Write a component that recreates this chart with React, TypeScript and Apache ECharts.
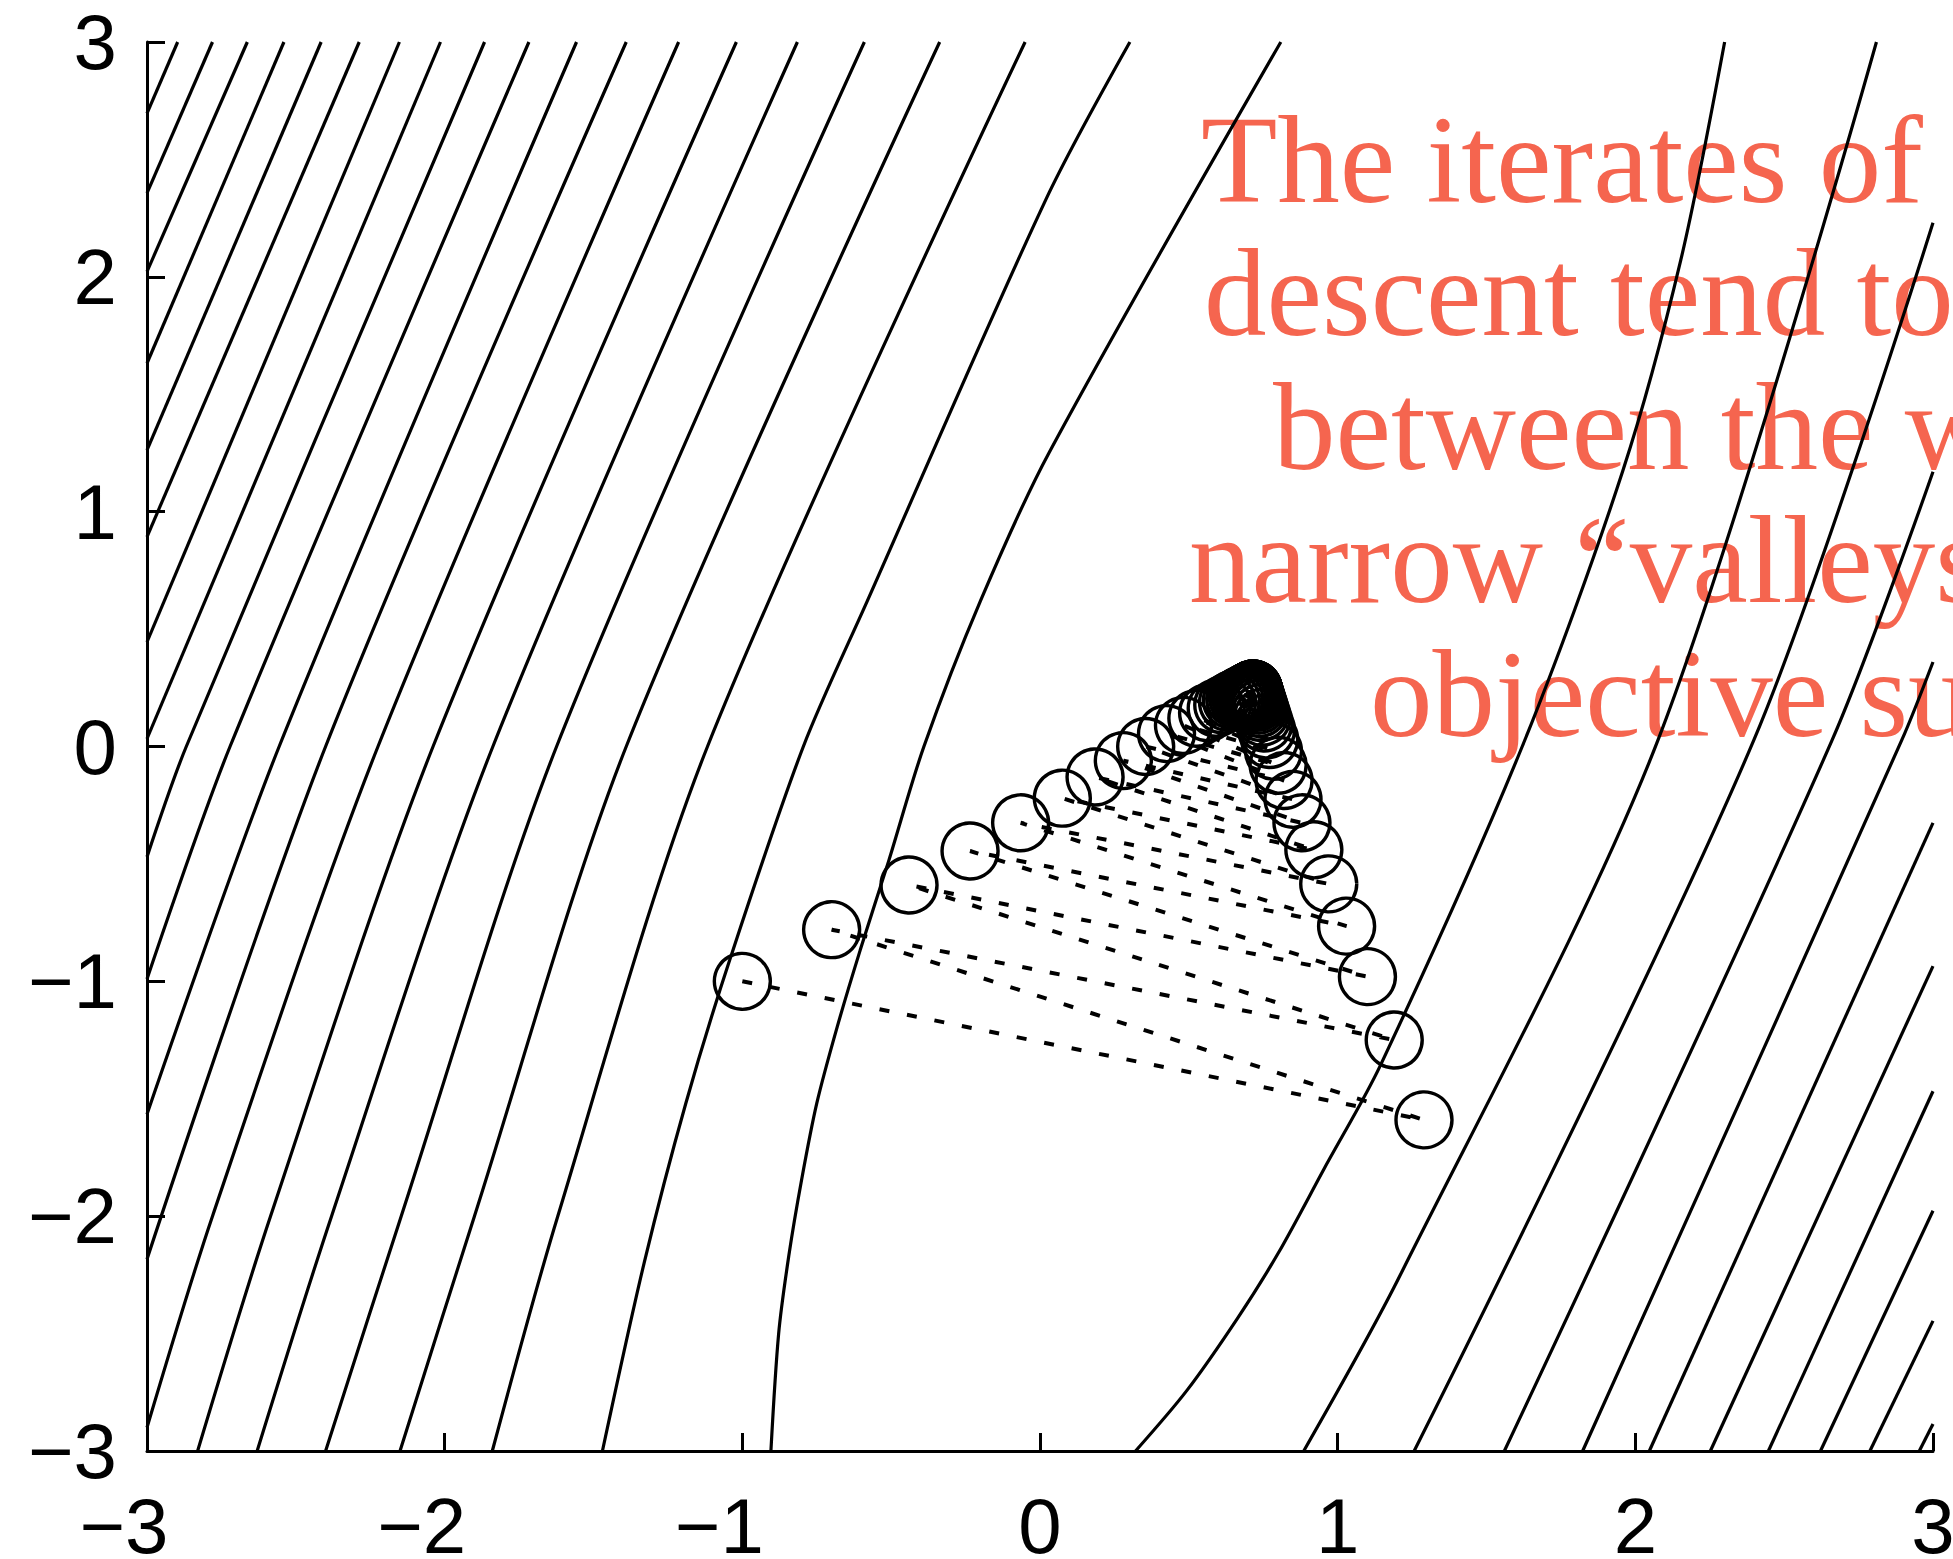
import React, { useEffect, useRef } from "react";
import * as echarts from "echarts";

// Axis range and tick values (both axes run from -3 to 3)
const axisMin = -3;
const axisMax = 3;
const tickStep = 1;

// Contour curves of the objective, each as [x, y] points along the curve.
// Family running from the left/bottom edge up to the top edge.
const levelA01 = [[-3, 2.696], [-2.897, 3]];
const levelA02 = [[-3, 2.356], [-2.78, 3]];
const levelA03 = [[-3, 2.022], [-2.663, 3]];
const levelA04 = [[-3, 1.632], [-2.54, 3]];
const levelA05 = [[-3, 1.262], [-2.415, 3]];
const levelA06 = [[-3, 0.893], [-2.287, 3]];
const levelA07 = [[-3, 0.445], [-2.152, 3]];
const levelA08 = [[-3, 0.033], [-2.014, 3]];
const levelA09 = [[-3, -0.47], [-2.868, 0], [-1.866, 3]];
const levelA10 = [[-3, -0.99], [-2.721, 0], [-1.717, 3]];
const levelA11 = [[-3, -1.566], [-2.556, 0], [-1.557, 3]];
const levelA12 = [[-3, -2.183], [-2.4, 0], [-1.39, 3]];
const levelA13 = [[-3, -2.9], [-2.78, -2], [-2.224, 0], [-1.214, 3]];
const levelA14 = [[-2.83, -3], [-2.585, -2], [-2.039, 0], [-1.02, 3]];
const levelA15 = [[-2.63, -3], [-2.38, -2], [-1.838, 0], [-0.815, 3]];
const levelA16 = [[-2.4, -3], [-2.146, -2], [-1.624, 0], [-0.59, 3]];
const levelA17 = [[-2.15, -3], [-1.9, -2], [-1.39, 0], [-0.337, 3]];
const levelA18 = [[-1.84, -3], [-1.62, -2], [-1.117, 0], [-0.05, 3]];
const levelA19 = [
  [-1.47, -3], [-1.33, -2.2], [-1.19, -1.52], [-1.04, -0.9], [-0.795, 0],
  [-0.58, 0.62], [0.02, 2.33], [0.302, 3],
];
const levelA20 = [
  [-0.904, -3], [-0.878, -2.5], [-0.844, -2.17], [-0.801, -1.846], [-0.75, -1.52],
  [-0.681, -1.193], [-0.604, -0.867], [-0.508, -0.486], [-0.39, 0], [-0.2, 0.62],
  [0.03, 1.25], [0.809, 3],
];

// Family running from the bottom edge up to the top or right edge.
const levelB01 = [
  [0.321, -3], [0.493, -2.743], [0.664, -2.434], [0.801, -2.156], [0.955, -1.797],
  [1.144, -1.357], [1.62, 0], [1.958, 1.174], [2.153, 2.073], [2.3, 3],
];
const levelB02 = [[0.886, -3], [1.209, -2.254], [2.076, 0.027], [2.81, 3]];
const levelB03 = [[1.257, -3], [2.398, 0.027], [3, 2.23]];
const levelB04 = [[1.56, -3], [2.661, 0.027], [3, 1.17]];
const levelB05 = [[1.823, -3], [2.895, 0.027], [3, 0.36]];
const levelB06 = [[2.047, -3], [3, -0.325]];
const levelB07 = [[2.252, -3], [3, -0.935]];
const levelB08 = [[2.447, -3], [3, -1.468]];
const levelB09 = [[2.622, -3], [3, -1.977]];
const levelB10 = [[2.788, -3], [3, -2.446]];
const levelB11 = [[2.954, -3], [3, -2.885]];

const contourLevels = [
  levelA01, levelA02, levelA03, levelA04, levelA05, levelA06, levelA07, levelA08, levelA09, levelA10,
  levelA11, levelA12, levelA13, levelA14, levelA15, levelA16, levelA17, levelA18, levelA19, levelA20,
  levelB01, levelB02, levelB03, levelB04, levelB05, levelB06, levelB07, levelB08, levelB09, levelB10,
  levelB11,
];

// Gradient-descent iterates, in the order they are visited
// (alternating between the two walls of the valley, piling up near the minimiser).
const iterX = [
  -1.0, 1.29, -0.7, 1.19, -0.44, 1.1, -0.235, 1.03, -0.065, 0.97,
  0.075, 0.92, 0.185, 0.88, 0.28, 0.85, 0.355, 0.82, 0.425, 0.8,
  0.482, 0.7845, 0.527, 0.7716, 0.563, 0.7612, 0.592, 0.7535, 0.614, 0.747,
  0.63, 0.7418, 0.643, 0.7374, 0.654, 0.7338, 0.663, 0.7307, 0.671, 0.7281,
  0.678, 0.7261, 0.684, 0.7243, 0.689, 0.7227, 0.6935, 0.7214, 0.6975, 0.7204,
  0.701, 0.7195, 0.704, 0.7187, 0.7065, 0.7181, 0.7085, 0.7175, 0.7105, 0.7172,
  0.712, 0.7168, 0.7135, 0.7165, 0.7145, 0.7163, 0.7155, 0.7162, 0.716, 0.716,
];
const iterY = [
  -1.0, -1.59, -0.78, -1.25, -0.59, -0.98, -0.445, -0.765, -0.325, -0.585,
  -0.22, -0.44, -0.13, -0.325, -0.06, -0.225, 0.0, -0.145, 0.055, -0.08,
  0.09, -0.02, 0.12, 0.03, 0.144, 0.07, 0.163, 0.1, 0.177, 0.125,
  0.188, 0.145, 0.197, 0.162, 0.204, 0.176, 0.21, 0.188, 0.215, 0.198,
  0.22, 0.206, 0.224, 0.213, 0.227, 0.219, 0.23, 0.224, 0.233, 0.228,
  0.235, 0.2315, 0.237, 0.2345, 0.239, 0.237, 0.24, 0.239, 0.241, 0.2405,
  0.242, 0.242, 0.243, 0.243, 0.244, 0.2438, 0.2446, 0.2444, 0.245, 0.245,
];

// Annotation lines with the left edge of each line; the block runs past the right edge
const captionLines = [
  "The iterates of gradient",
  "descent tend to zigzag",
  "between the walls of",
  "narrow \u201cvalleys\u201d of the",
  "objective surface",
];
const captionStartX = [1201, 1204, 1273, 1189, 1370];

const minusSign = "\u2212";

export default function App() {
  const ref = useRef<HTMLDivElement>(null);

  useEffect(() => {
    if (!ref.current) return;
    const chart = echarts.init(ref.current, null, { renderer: "svg" });

    const labelFont = {
      color: "#000",
      fontSize: 78,
      fontFamily: "Liberation Sans, Arial, sans-serif",
    };

    const axisCommon = {
      type: "value" as const,
      min: axisMin,
      max: axisMax,
      interval: tickStep,
      splitLine: { show: false },
      axisLine: { show: true, onZero: false, lineStyle: { color: "#000", width: 3 } },
      axisTick: { show: true, inside: true, length: 18, lineStyle: { color: "#000", width: 3 } },
    };

    const contourSeries = contourLevels.map((pts, i) => ({
      type: "line" as const,
      name: "level" + i,
      data: pts,
      symbol: "none",
      smooth: 0.3,
      silent: true,
      z: 2,
      lineStyle: { color: "#000", width: 3.2 },
    }));

    const iterateSeries = {
      type: "line" as const,
      name: "iterates",
      data: iterX.map((x, i) => [x, iterY[i]]),
      symbol: "circle",
      symbolSize: 56,
      showSymbol: true,
      silent: true,
      z: 3,
      itemStyle: { color: "rgba(0,0,0,0)", borderColor: "#000", borderWidth: 3.4 },
      lineStyle: { color: "#000", width: 4, type: [10, 18] },
    };

    chart.setOption({
      animation: false,
      backgroundColor: "#fff",
      grid: { left: 147, right: 20, top: 42, bottom: 108, containLabel: false, outerBoundsMode: "none" },
      xAxis: {
        ...axisCommon,
        position: "bottom",
        axisLabel: {
          ...labelFont,
          margin: 36,
          showMinLabel: true,
          showMaxLabel: true,
          // negative labels keep their digit centred on the tick
          formatter: (v: number) => (v < 0 ? "{neg|" + minusSign + Math.abs(v) + "}" : String(v)),
          rich: { neg: { ...labelFont, padding: [0, 46, 0, 0] } },
        },
      },
      yAxis: {
        ...axisCommon,
        position: "left",
        axisLabel: {
          ...labelFont,
          margin: 30,
          showMinLabel: true,
          showMaxLabel: true,
          formatter: (v: number) => String(v).replace("-", minusSign),
        },
      },
      series: [...contourSeries, iterateSeries],
      graphic: captionLines.map((line, i) => ({
        type: "text",
        x: captionStartX[i],
        y: 93 + i * 133.5,
        z: 0,
        silent: true,
        style: {
          text: line,
          fill: "#F5654F",
          fontSize: 125,
          fontFamily: "Liberation Serif, Times New Roman, serif",
          lineHeight: 133.5,
          align: "left",
          verticalAlign: "top",
        },
      })),
    } as any);

    return () => chart.dispose();
  }, []);

  return (
    <div
      ref={ref}
      style={{ position: "fixed", left: 0, top: 0, width: 1953, height: 1559, background: "#fff" }}
    />
  );
}
